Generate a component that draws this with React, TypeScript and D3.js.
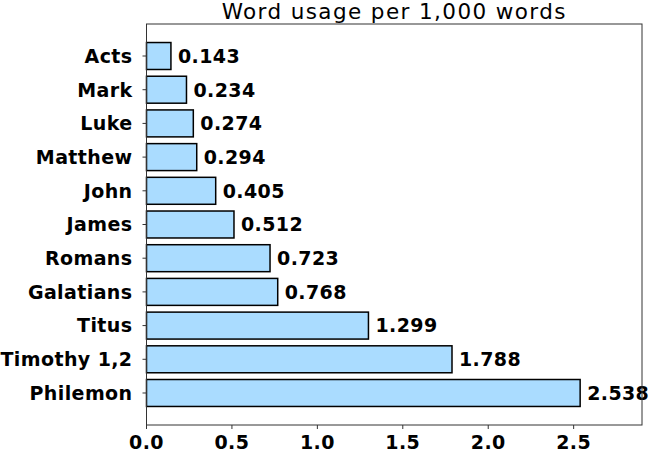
import * as d3 from "d3";

const books = [
  "Acts",
  "Mark",
  "Luke",
  "Matthew",
  "John",
  "James",
  "Romans",
  "Galatians",
  "Titus",
  "Timothy 1,2",
  "Philemon",
];
const usage = [0.143, 0.234, 0.274, 0.294, 0.405, 0.512, 0.723, 0.768, 1.299, 1.788, 2.538];
const xTickValues = [0, 0.5, 1.0, 1.5, 2.0, 2.5];

export default function App() {
  const width = 650;
  const height = 455;
  const margin = { top: 24, right: 8, bottom: 30, left: 146.5 };
  const plotRight = width - margin.right;
  const plotBottom = height - margin.bottom;

  const x = d3.scaleLinear([0, 2.9], [margin.left, plotRight]);
  const y = d3
    .scaleBand(books, [margin.top, plotBottom])
    .paddingInner(0.2)
    .paddingOuter(0.55);

  const font = "'DejaVu Sans', Verdana, sans-serif";
  const ls = 0.4;

  return (
    <svg
      width={width}
      height={height}
      style={{ position: "absolute", left: 0, top: 0, background: "#fff" }}
      fontFamily={font}
    >
      <text
        x={(margin.left + plotRight) / 2}
        y={18.5}
        textAnchor="middle"
        fontSize={21.5}
        letterSpacing={1.4}
        fill="#000"
      >
        Word usage per 1,000 words
      </text>
      {books.map((b, i) => {
        const yy = y(b)!;
        const bh = y.bandwidth();
        return (
          <g key={b}>
            <rect
              x={x(0)}
              y={yy}
              width={x(usage[i]) - x(0)}
              height={bh}
              fill="#aadcff"
              stroke="#000"
              strokeWidth={1.5}
            />
            <text
              x={x(usage[i]) + 7}
              y={yy + bh / 2}
              dy="0.36em"
              fontSize={19}
              fontWeight="bold"
              letterSpacing={ls}
              fill="#000"
            >
              {usage[i].toFixed(3)}
            </text>
            <line x1={margin.left - 4} x2={margin.left} y1={yy + bh / 2} y2={yy + bh / 2} stroke="#333" />
            <text
              x={margin.left - 14}
              y={yy + bh / 2}
              dy="0.36em"
              textAnchor="end"
              fontSize={19}
              fontWeight="bold"
              letterSpacing={ls}
              fill="#000"
            >
              {b}
            </text>
          </g>
        );
      })}
      <rect
        x={margin.left}
        y={margin.top}
        width={plotRight - margin.left}
        height={plotBottom - margin.top}
        fill="none"
        stroke="#333"
        strokeWidth={1}
      />
      {xTickValues.map((t) => (
        <g key={t}>
          <line x1={x(t)} x2={x(t)} y1={plotBottom} y2={plotBottom + 4} stroke="#333" />
          <text
            x={x(t)}
            y={plotBottom + 24}
            textAnchor="middle"
            fontSize={19}
            fontWeight="bold"
            letterSpacing={ls}
            fill="#000"
          >
            {t.toFixed(1)}
          </text>
        </g>
      ))}
    </svg>
  );
}
